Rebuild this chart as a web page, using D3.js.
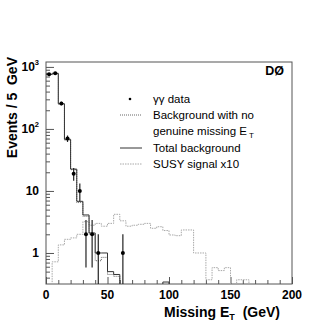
<!DOCTYPE html>
<html>
<head>
<meta charset="utf-8">
<script src="https://cdn.jsdelivr.net/npm/d3@7"></script>
<style>
  body { margin: 0; background: #fff; }
  text { font-family: "Liberation Sans", Arial, sans-serif; }
</style>
</head>
<body>
<div id="chart"></div>
<script>
// bin edges every 5 GeV, 0..200
let binEdges = d3.range(0, 205, 5);

// total background (solid)
let bgTotal = [760, 790, 255, 68, 22.5, 6.8, 4.1, 2.1, 1.0, 1.0,
               0.5, 0.45, 0, 0, 0, 0, 0, 0, 0, 0.34,
               0, 0, 0, 0, 0, 0, 0, 0, 0, 0,
               0, 0, 0, 0, 0, 0, 0, 0, 0, 0];

// background with no genuine missing ET (dark dotted)
let bgNoMet = [745, 775, 250, 66, 22, 6.5, 3.9, 2.0, 0.75, 0.85,
               0.45, 0.42, 0, 0, 0, 0, 0, 0, 0, 0,
               0, 0, 0, 0, 0, 0, 0, 0, 0, 0,
               0, 0, 0, 0, 0, 0, 0, 0, 0, 0];

// SUSY signal x10 (light dotted)
let susy = [0, 0.72, 1.35, 1.66, 1.75, 2.0, 3.2, 2.8, 3.0, 2.7,
            3.0, 4.2, 3.3, 2.7, 2.8, 2.9, 3.0, 2.5, 2.65, 2.3,
            1.95, 1.9, 2.35, 2.35, 1.0, 1.0, 0.37, 0.58, 0.52, 0.58,
            0, 0.37, 0.37, 0, 0, 0, 0, 0, 0, 0];

// gamma gamma data
let dataX = [2.5, 7.5, 12.5, 17.5, 22.5, 27.5, 32.5, 37.5, 42.5, 62.5];
let dataN = [760, 790, 258, 70, 19, 10, 2, 2, 1, 1];

let xTicks = [0, 50, 100, 150, 200];
let yTicks = [1, 10, 100, 1000];
let yTickLabels = [["1", ""], ["10", ""], ["10", "2"], ["10", "3"]];

let legendItems = ["γγ data", "Background with no", "genuine missing E", "Total background", "SUSY signal x10"];

let margin = {top: 62, left: 46, right: 40, bottom: 43};
let W = 332, H = 327;
let width = W - margin.left - margin.right;
let height = H - margin.top - margin.bottom;

let x = d3.scaleLinear().domain([0, 200]).range([0, width]);
let y = d3.scaleLog().domain([0.316, 1200]).range([height, 0]);
let yMin = y.domain()[0];

let svg = d3.select("#chart").append("svg")
    .attr("width", W)
    .attr("height", H);

svg.append("defs").append("clipPath")
    .attr("id", "clip")
    .append("rect")
    .attr("width", width)
    .attr("height", height);

let g = svg.append("g")
    .attr("transform", "translate(" + margin.left + "," + margin.top + ")");

// ticks inside the frame
let xAxis = d3.axisBottom(x)
    .tickValues(d3.range(0, 201, 10))
    .tickSizeInner(-4)
    .tickSizeOuter(0)
    .tickFormat("");

let xAxisGroup = g.append("g")
    .attr("transform", "translate(0," + height + ")")
    .call(xAxis);
xAxisGroup.selectAll(".tick line")
    .attr("y2", d => d % 50 === 0 ? -7 : -4);

let minorY = [];
[0.1, 1, 10, 100, 1000].forEach(dec => {
    for (let k = 1; k < 10; k++) {
        let v = dec * k;
        if (v >= yMin && v <= 1200) minorY.push(v);
    }
});
let yAxis = d3.axisLeft(y)
    .tickValues(minorY)
    .tickSizeOuter(0)
    .tickFormat("");
let yAxisGroup = g.append("g").call(yAxis);
yAxisGroup.selectAll(".tick line")
    .attr("x2", d => yTicks.includes(d) ? 8 : 4);

g.selectAll(".domain").remove();
g.selectAll(".tick line").attr("stroke", "#555");

// frame
g.append("rect")
    .attr("width", width)
    .attr("height", height)
    .attr("fill", "none")
    .attr("stroke", "#555")
    .attr("stroke-width", 1);

// tick labels
g.selectAll(".xlab")
    .data(xTicks)
    .enter()
    .append("text")
    .attr("class", "xlab")
    .attr("x", d => x(d))
    .attr("y", height + 15)
    .attr("text-anchor", "middle")
    .attr("font-size", 12)
    .attr("font-weight", "bold")
    .text(d => d);

let ylab = g.selectAll(".ylab")
    .data(yTicks)
    .enter()
    .append("text")
    .attr("class", "ylab")
    .attr("x", -7)
    .attr("y", d => y(d) + 4)
    .attr("text-anchor", "end")
    .attr("font-size", 12)
    .attr("font-weight", "bold");
ylab.append("tspan").text((d, i) => yTickLabels[i][0]);
ylab.append("tspan")
    .attr("dy", -6)
    .attr("font-size", 7.5)
    .text((d, i) => yTickLabels[i][1]);

// histograms
function histPath(values) {
    let pts = [];
    values.forEach((v, i) => {
        let yy = v > 0 ? y(v) : height + 2;
        pts.push([x(binEdges[i]), yy]);
        pts.push([x(binEdges[i + 1]), yy]);
    });
    return d3.line()(pts);
}

let plot = g.append("g").attr("clip-path", "url(#clip)");

plot.append("path")
    .attr("d", histPath(susy))
    .attr("fill", "none")
    .attr("stroke", "#a8a8a8")
    .attr("stroke-width", 1)
    .attr("stroke-dasharray", "1.5,1");

plot.append("path")
    .attr("d", histPath(bgNoMet))
    .attr("fill", "none")
    .attr("stroke", "#666")
    .attr("stroke-width", 1)
    .attr("stroke-dasharray", "1,1");

plot.append("path")
    .attr("d", histPath(bgTotal))
    .attr("fill", "none")
    .attr("stroke", "#333")
    .attr("stroke-width", 1);

// data with sqrt(N) errors
let pts = dataX.map((d, i) => ({x: d, n: dataN[i]}));
plot.selectAll(".err")
    .data(pts)
    .enter()
    .append("line")
    .attr("class", "err")
    .attr("x1", d => x(d.x))
    .attr("x2", d => x(d.x))
    .attr("y1", d => y(d.n + Math.sqrt(d.n)))
    .attr("y2", d => d.n - Math.sqrt(d.n) > yMin ? y(d.n - Math.sqrt(d.n)) : height)
    .attr("stroke", "#222")
    .attr("stroke-width", 1.2);

plot.selectAll(".dot")
    .data(pts)
    .enter()
    .append("circle")
    .attr("class", "dot")
    .attr("cx", d => x(d.x))
    .attr("cy", d => y(d.n))
    .attr("r", 2)
    .attr("fill", "#000");

// legend
g.append("text")
    .attr("x", 238)
    .attr("y", 13)
    .attr("text-anchor", "end")
    .attr("font-size", 12.5)
    .attr("font-weight", "bold")
    .text("DØ");

let lx = 107;
g.append("circle").attr("cx", 84).attr("cy", 37).attr("r", 1.3).attr("fill", "#000");
g.append("line").attr("x1", 74).attr("x2", 96).attr("y1", 53).attr("y2", 53)
    .attr("stroke", "#666").attr("stroke-dasharray", "1,1");
g.append("line").attr("x1", 74).attr("x2", 96).attr("y1", 86).attr("y2", 86)
    .attr("stroke", "#333");
g.append("line").attr("x1", 74).attr("x2", 96).attr("y1", 102).attr("y2", 102)
    .attr("stroke", "#a8a8a8").attr("stroke-dasharray", "1.5,1");

let legY = [41, 57, 73, 90, 106];
legendItems.forEach((t, i) => {
    let tx = g.append("text")
        .attr("x", lx)
        .attr("y", legY[i])
        .attr("font-size", 11.5)
        .text(t);
    if (i === 2) {
        tx.append("tspan").attr("dx", 2).attr("dy", 3).attr("font-size", 8).text("T");
    }
});

// axis titles
let xt = svg.append("text")
    .attr("x", 164)
    .attr("y", 317)
    .attr("font-size", 14)
    .attr("font-weight", "bold");
xt.append("tspan").text("Missing E");
xt.append("tspan").attr("dy", 3).attr("font-size", 9).text("T");
xt.append("tspan").attr("dy", -3).text("\u00a0\u00a0(GeV)");

svg.append("text")
    .attr("transform", "translate(17,57) rotate(-90)")
    .attr("text-anchor", "end")
    .attr("font-size", 14)
    .attr("font-weight", "bold")
    .text("Events / 5\u00a0\u00a0GeV");
</script>
</body>
</html>
